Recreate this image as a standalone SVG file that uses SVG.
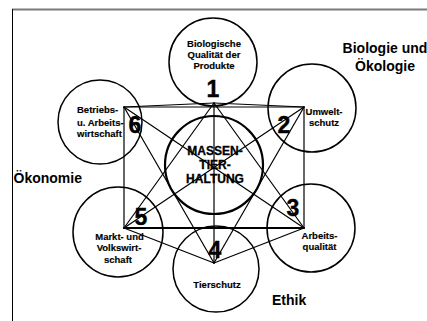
<svg xmlns="http://www.w3.org/2000/svg" width="427" height="321" viewBox="0 0 427 321">
  <style>
    .bg { fill: #ffffff; }
    .ring { fill: none; stroke: #000; stroke-width: 1.5; }
    .hub { fill: none; stroke: #000; stroke-width: 2.2; }
    .edge { fill: none; stroke: #000; stroke-width: 1.2; stroke-linecap: round; }
    .thick { stroke-width: 2; }
    .lbl { font-family: "Liberation Sans", Arial, sans-serif; font-weight: bold; font-size: 9.5px; fill: #000; stroke: #000; stroke-width: 0.15; text-anchor: middle; }
    .lbl-left { text-anchor: start; }
    .num { font-family: "Liberation Sans", Arial, sans-serif; font-weight: bold; font-size: 23px; fill: #000; stroke: #000; stroke-width: 0.4; text-anchor: middle; }
    .hubtxt { font-family: "Liberation Sans", Arial, sans-serif; font-weight: bold; font-size: 12px; fill: #000; stroke: #000; stroke-width: 0.3; text-anchor: middle; }
    .area { font-family: "Liberation Sans", Arial, sans-serif; font-weight: bold; font-size: 14px; fill: #000; }
  </style>

  <rect class="bg" x="0" y="0" width="427" height="321"/>

  <!-- frame -->
  <line x1="12" y1="9.5" x2="427" y2="9.5" stroke="#7a7a7a" stroke-width="2"/>
  <line x1="12.5" y1="9" x2="12.5" y2="321" stroke="#000" stroke-width="1"/>

  <!-- connecting lines between the six aspects -->
  <g id="connectors">
    <!-- rectangle -->
    <line class="edge" x1="124" y1="107" x2="304" y2="107"/>
    <line class="edge" x1="124" y1="107" x2="124" y2="228"/>
    <line class="edge" x1="304" y1="107" x2="304" y2="228"/>
    <line class="edge thick" x1="124" y1="228" x2="304" y2="228"/>
    <!-- outer hexagon edges -->
    <line class="edge" x1="214" y1="103" x2="124" y2="107"/>
    <line class="edge" x1="214" y1="103" x2="304" y2="107"/>
    <line class="edge" x1="214" y1="263" x2="124" y2="228"/>
    <line class="edge" x1="214" y1="263" x2="304" y2="228"/>
    <!-- vertical axis -->
    <line class="edge" x1="214" y1="103" x2="214" y2="263"/>
    <!-- triangle 1-3-5 -->
    <line class="edge" x1="214" y1="103" x2="124" y2="228"/>
    <line class="edge" x1="214" y1="103" x2="304" y2="228"/>
    <!-- triangle 4-6-2 -->
    <line class="edge" x1="214" y1="263" x2="124" y2="107"/>
    <line class="edge" x1="214" y1="263" x2="304" y2="107"/>
    <!-- diagonals -->
    <line class="edge" x1="124" y1="107" x2="304" y2="228"/>
    <line class="edge" x1="304" y1="107" x2="124" y2="228"/>
  </g>

  <g id="hub">
    <circle class="hub" cx="214" cy="165" r="49"/>
    <text class="hubtxt" x="215" y="155">MASSEN-</text>
    <text class="hubtxt" x="215" y="169">TIER-</text>
    <text class="hubtxt" x="215" y="183">HALTUNG</text>
  </g>

  <g id="node1">
    <circle class="ring" cx="213" cy="62" r="44"/>
    <text class="lbl" x="214" y="47">Biologische</text>
    <text class="lbl" x="214" y="58">Qualität der</text>
    <text class="lbl" x="214" y="69">Produkte</text>
    <text class="num" x="213" y="97">1</text>
  </g>

  <g id="node2">
    <circle class="ring" cx="312" cy="108" r="44"/>
    <text class="lbl" x="324" y="115">Umwelt-</text>
    <text class="lbl" x="324" y="125.5">schutz</text>
    <text class="num" x="284" y="133">2</text>
  </g>

  <g id="node3">
    <circle class="ring" cx="311" cy="228" r="44"/>
    <text class="lbl" x="319.5" y="239">Arbeits-</text>
    <text class="lbl" x="319.5" y="250">qualität</text>
    <text class="num" x="293" y="216">3</text>
  </g>

  <g id="node4">
    <circle class="ring" cx="216" cy="269" r="43"/>
    <text class="lbl" x="217" y="288">Tierschutz</text>
    <text class="num" x="215" y="258">4</text>
  </g>

  <g id="node5">
    <circle class="ring" cx="118" cy="232" r="45"/>
    <text class="lbl" x="119.5" y="240">Markt- und</text>
    <text class="lbl" x="119" y="251">Volkswirt-</text>
    <text class="lbl" x="118" y="262.5">schaft</text>
    <text class="num" x="141" y="225">5</text>
  </g>

  <g id="node6">
    <circle class="ring" cx="100" cy="122" r="42"/>
    <text class="lbl lbl-left" x="77" y="113">Betriebs-</text>
    <text class="lbl lbl-left" x="77" y="126">u. Arbeits-</text>
    <text class="lbl lbl-left" x="77" y="137">wirtschaft</text>
    <text class="num" x="135" y="133">6</text>
  </g>

  <!-- field headings -->
  <g id="areas">
    <text class="area" x="385" y="53" text-anchor="middle">Biologie und</text>
    <text class="area" x="385" y="71" text-anchor="middle">Ökologie</text>
    <text class="area" x="13.5" y="183">Ökonomie</text>
    <text class="area" x="272" y="305">Ethik</text>
  </g>
</svg>
